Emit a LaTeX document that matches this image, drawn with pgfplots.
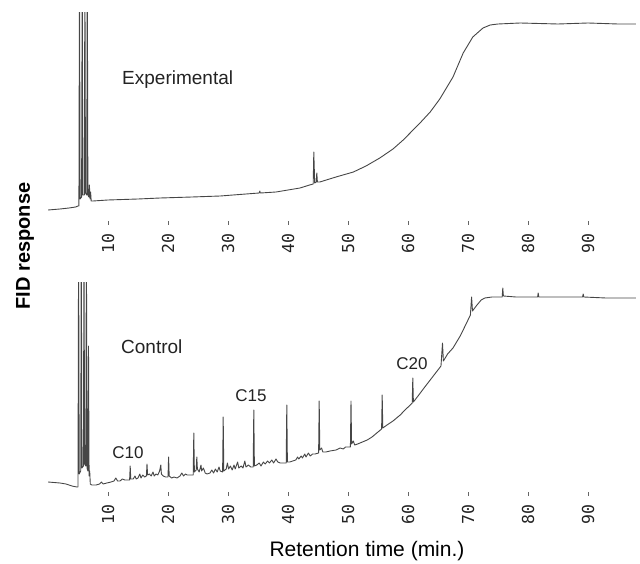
\documentclass[border=0pt]{standalone}
\usepackage{pgfplots}
\pgfplotsset{compat=1.18}
\usepackage{fontspec}
\setmainfont{Liberation Sans}
\newfontfamily\tickfont{DejaVu Sans Mono}
\definecolor{trace}{RGB}{70,70,70}
\definecolor{txt}{RGB}{35,35,35}

\pgfplotsset{
  chrom/.style={
    scale only axis,
    width=588pt,
    xmin=0, xmax=98,
    ymin=0,
    axis x line*=bottom,
    axis y line=none,
    axis line style={draw=none},
    xtick={10,20,30,40,50,60,70,80,90},
    xticklabels={10,20,30,40,50,60,70,80,90},
    xtick align=inside,
    major tick length=4pt,
    tick style={draw=black!60, line width=0.7pt},
    xticklabel shift=8pt,
    /pgf/number format/assume math mode=true,
    xticklabel style={rotate=90, anchor=east, inner sep=0pt,
      font=\tickfont\fontsize{16.5}{18}\selectfont, text=txt},
    ytick=\empty,
    clip=true,
  },
  trc/.style={draw=trace, line width=0.9pt, mark=none, line join=round},
}

\begin{document}
\begin{tikzpicture}[x=1pt,y=1pt]
\useasboundingbox (0,0) rectangle (640,563);

% ---------------- top panel: Experimental ----------------
\begin{axis}[chrom, at={(48pt,338pt)}, anchor=south west, height=212pt, ymax=212]
\addplot[trc] coordinates {
(0,15)(2,16)(3.5,17)(4.6,18)(5.0,19)(5.15,19)(5.25,260)(5.35,26)(5.6,28)(5.7,260)
(5.8,30)(6.05,30)(6.15,260)(6.25,32)(6.45,30)(6.55,260)(6.65,30)(6.8,28)(6.9,40)(7.0,26)
(7.1,33)(7.2,24)(7.5,24)(10,25)(15,26)(18.7,27)(24,28)(28.7,29)(33,31)(35.2,32)
(35.3,34)(35.4,32)(38,33)(40,35)(42,37)(43.6,40)(44.2,41)(44.3,73)(44.45,42)
(44.7,43)(44.8,52)(44.9,43)(45.3,43)(48,48)(50.9,53)(53,59)(55.3,67)(57.5,76)
(59.2,85)(62,102)(63.7,113)(65.3,126)(67.5,148)(69.2,172)(70.8,188)(72.5,197)
(73.7,200)(75,201)(78.7,202)(85,201)(90,202)(95,201)(98,201)
};
\end{axis}

% ---------------- bottom panel: Control ----------------
\begin{axis}[chrom, at={(48pt,67pt)}, anchor=south west, height=213pt, ymax=213]
\addplot[trc] coordinates {
(0,14)(1,13.5)(2,13)(3,12)(4,10)(4.8,9)
(5.0,9)(5.1,260)(5.2,22)(5.45,25)(5.55,260)(5.65,28)(5.9,30)(6.0,260)(6.1,32)
(6.3,30)(6.4,260)(6.5,28)(6.65,25)(6.75,150)(6.85,20)(6.95,25)(7.05,12)
(7.3,11)(8,11)(8.6,12)(8.9,14)(9.2,12)(9.8,13)(10.5,14)(11,15)(11.3,18)(11.6,15)
(12,15)(12.4,17)(12.8,16)
(13.6,16)(13.7,30)(13.8,17)(14.2,17)(14.5,20)(14.7,17)(15,18)(15.3,22)(15.5,18)
(15.8,21)(16.1,19)(16.4,20)(16.5,32)(16.6,21)(16.9,22)(17.2,20)(17.5,24)(17.7,20)
(18,22)(18.3,21)(18.6,25)(18.8,31)(18.9,22)(19.2,20)(19.6,19)
(20,19)(20.1,39)(20.2,20)(20.6,18)(21,19)(21.5,18)(22,20)(22.3,23)(22.6,20)
(22.9,22)(23.2,21)(23.6,21)(24.2,21)(24.3,63)(24.4,24)(24.7,26)(24.8,39)(24.9,27)
(25.2,24)(25.5,31)(25.6,25)(25.9,28)(26.2,23)(26.5,22)(27,23)(27.3,26)(27.6,23)
(27.9,27)(28.2,24)(28.5,29)(28.7,25)(29.1,24)
(29.2,79)(29.3,25)(29.7,27)(29.9,33)(30.1,27)(30.4,30)(30.7,26)(31,31)(31.2,27)
(31.6,34)(31.8,28)(32.2,30)(32.5,28)(32.8,35)(33,29)(33.4,31)(33.8,29)(34.2,29)
(34.3,86)(34.4,30)(34.8,31)(35.2,33)(35.5,30)(35.9,34)(36.2,32)(36.6,35)(36.9,33)
(37.3,36)(37.6,33)(38,37)(38.3,34)(38.7,33)(39.2,33)(39.7,33)
(39.8,91)(39.9,34)(40.3,34)(40.8,35)(41.3,36)(41.6,39)(41.8,37)(42.2,40)(42.4,38)
(42.8,42)(43,39)(43.4,43)(43.7,40)(44.1,42)(44.5,42)(45.1,43)
(45.2,95)(45.3,46)(45.6,48)(45.8,44)(46.3,44)(47,45)(48,46)(48.7,48)(49.2,47)
(49.6,49)(50.1,49)(50.4,49)
(50.5,95)(50.6,52)(50.9,55)(51.1,51)(51.6,52)(52.4,54)(53.2,56)(54,59)(55,64)(55.6,67)
(55.7,101)(55.8,68)(56.5,71)(57.5,75)(58.7,81)(59.5,86)(60.2,90)(60.7,93)
(60.8,118)(60.9,94)(61.8,101)(62.8,109)(63.7,116)(64.6,123)(65.5,130)
(65.75,153)(65.9,135)(66.6,142)(67.5,148)(68.7,160)(69.6,171)(70.4,181)
(70.6,199)(70.75,185)(71.5,191)(72.2,196)(72.8,198)(74,199)(75.7,199)(75.8,208)
(75.9,200)(78,199)(81.6,199)(81.7,203)(81.8,199)(85,199)(89.1,199)(89.2,202)
(89.3,199)(93,198)(98,198)
};
\end{axis}

% ---------------- text ----------------
\node[anchor=base west, inner sep=0pt, text=txt, font=\fontsize{19}{22}\selectfont] at (122,478) {Experimental};
\node[anchor=base west, inner sep=0pt, text=txt, font=\fontsize{19}{22}\selectfont] at (121,209) {Control};
\node[anchor=center, inner sep=0pt, text=txt, font=\fontsize{17}{20}\selectfont] at (128,110) {C10};
\node[anchor=center, inner sep=0pt, text=txt, font=\fontsize{17}{20}\selectfont] at (251,167) {C15};
\node[anchor=center, inner sep=0pt, text=txt, font=\fontsize{17}{20}\selectfont] at (412,199) {C20};
\node[rotate=90, anchor=center, inner sep=0pt, font=\bfseries\fontsize{20}{24}\selectfont] at (25,317) {FID response};
\node[anchor=base, inner sep=0pt, font=\fontsize{21}{24}\selectfont] at (367,7) {Retention time (min.)};
\end{tikzpicture}
\end{document}
